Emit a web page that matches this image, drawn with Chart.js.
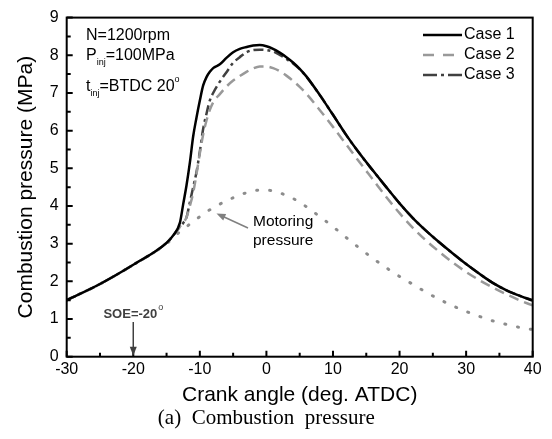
<!DOCTYPE html>
<html>
<head>
<meta charset="utf-8">
<script src="https://cdn.jsdelivr.net/npm/chart.js@4"></script>
<style>
  html, body { margin: 0; padding: 0; background: #fff; }
  #wrap { width: 552px; height: 439px; }
</style>
</head>
<body>
<div id="wrap"><canvas id="pressureChart"></canvas></div>
<script>
const ctxEl = document.getElementById("pressureChart");

// DATA (crank angle in deg. ATDC, pressure in MPa)
const crankAngle = [-30, -25, -20, -15, -14, -13, -12.5, -12, -11.5, -11, -10.5, -10, -9.5, -9, -8.5, -8,
  -7, -6, -5, -4, -3, -2, -1, 0, 1, 2, 3, 4, 5, 6,
  8, 10, 12, 14, 16, 18, 20, 22, 24, 26, 28, 30, 32, 34, 36, 38, 40];
const case1 = [1.50, 1.93, 2.44, 3.02, 3.22, 3.55, 4.05, 4.55, 5.15, 5.85, 6.35, 6.80, 7.20, 7.42, 7.56, 7.66,
  7.76, 7.93, 8.08, 8.17, 8.22, 8.26, 8.27, 8.24, 8.17, 8.07, 7.95, 7.81, 7.64, 7.44,
  6.95, 6.42, 5.88, 5.39, 4.94, 4.50, 4.07, 3.68, 3.34, 3.03, 2.74, 2.46, 2.20, 1.96, 1.77, 1.62, 1.49];
const case2 = [1.50, 1.93, 2.44, 3.02, 3.22, 3.45, 3.55, 3.70, 4.00, 4.35, 4.85, 5.40, 5.90, 6.27, 6.55, 6.75,
  6.97, 7.17, 7.33, 7.45, 7.56, 7.65, 7.70, 7.70, 7.66, 7.58, 7.46, 7.32, 7.16, 6.98,
  6.55, 6.10, 5.63, 5.16, 4.70, 4.24, 3.81, 3.42, 3.08, 2.78, 2.50, 2.25, 2.03, 1.84, 1.66, 1.50, 1.36];
const case3 = [1.50, 1.93, 2.44, 3.02, 3.22, 3.45, 3.55, 3.70, 4.10, 4.50, 4.90, 5.45, 6.05, 6.45, 6.80, 7.00,
  7.30, 7.55, 7.80, 7.95, 8.08, 8.14, 8.15, 8.14, 8.10, 8.01, 7.90, 7.78, 7.63, 7.43,
  6.95, 6.42, 5.88, 5.39, 4.94, 4.50, 4.07, 3.68, 3.34, 3.03, 2.74, 2.46, 2.20, 1.96, 1.77, 1.62, 1.50];
const motoring = [1.50, 1.93, 2.44, 3.00, 3.15, 3.32, 3.39, 3.45, 3.52, 3.58, 3.65, 3.72, 3.79, 3.85, 3.90, 3.95,
  4.05, 4.13, 4.22, 4.30, 4.35, 4.40, 4.42, 4.42, 4.40, 4.35, 4.28, 4.20, 4.10, 3.98,
  3.72, 3.45, 3.16, 2.88, 2.61, 2.36, 2.13, 1.92, 1.71, 1.52, 1.35, 1.20, 1.07, 0.95, 0.86, 0.78, 0.72];
const seriesNames = ['Case 1', 'Case 2', 'Case 3', 'Motoring pressure'];
const xTickValues = [-30, -20, -10, 0, 10, 20, 30, 40];
const yTickValues = [0, 1, 2, 3, 4, 5, 6, 7, 8, 9];

const toPoints = (vals) => vals.map((v, i) => ({ x: crankAngle[i], y: v }));

Chart.defaults.font.family = "'Liberation Sans', Arial, sans-serif";
Chart.defaults.color = '#000';

// text with sub/superscripts: parts = [[text, size, dy], ...]
function richText(ctx, x, y, parts) {
  ctx.textAlign = 'left';
  ctx.textBaseline = 'middle';
  for (const [t, size, dy] of parts) {
    ctx.font = size + "px 'Liberation Sans', Arial, sans-serif";
    ctx.fillText(t, x, y + dy);
    x += ctx.measureText(t).width;
  }
}

function arrow(ctx, x1, y1, x2, y2, color) {
  const ang = Math.atan2(y2 - y1, x2 - x1);
  ctx.strokeStyle = color;
  ctx.fillStyle = color;
  ctx.lineWidth = 1.5;
  ctx.setLineDash([]);
  ctx.beginPath();
  ctx.moveTo(x1, y1);
  ctx.lineTo(x2 - 6 * Math.cos(ang), y2 - 6 * Math.sin(ang));
  ctx.stroke();
  ctx.beginPath();
  ctx.moveTo(x2, y2);
  ctx.lineTo(x2 - 9 * Math.cos(ang) + 3.5 * Math.sin(ang), y2 - 9 * Math.sin(ang) - 3.5 * Math.cos(ang));
  ctx.lineTo(x2 - 9 * Math.cos(ang) - 3.5 * Math.sin(ang), y2 - 9 * Math.sin(ang) + 3.5 * Math.cos(ang));
  ctx.closePath();
  ctx.fill();
}

const decorations = {
  id: 'decorations',
  afterDraw(chart) {
    const { ctx, chartArea: a, scales: { x, y } } = chart;
    ctx.save();

    // inward ticks + frame
    ctx.strokeStyle = '#000';
    ctx.lineWidth = 2;
    ctx.setLineDash([]);
    ctx.beginPath();
    for (let v = x.min; v <= x.max; v += 5) {
      const px = x.getPixelForValue(v);
      ctx.moveTo(px, a.bottom);
      ctx.lineTo(px, a.bottom - (v % 10 === 0 ? 6 : 4));
    }
    for (let v = y.min; v <= y.max; v += 0.5) {
      const py = y.getPixelForValue(v);
      ctx.moveTo(a.left, py);
      ctx.lineTo(a.left + (Number.isInteger(v) ? 6 : 4), py);
    }
    ctx.stroke();
    ctx.strokeRect(a.left, a.top, a.right - a.left, a.bottom - a.top);

    // legend (first three series)
    const sets = chart.data.datasets.slice(0, 3);
    sets.forEach((ds, i) => {
      const ly = 35 + i * 20;
      ctx.strokeStyle = ds.borderColor;
      ctx.lineWidth = ds.borderWidth;
      ctx.setLineDash(i === 1 ? [11, 9] : (i === 2 ? [14, 4, 3, 4] : []));
      ctx.beginPath();
      ctx.moveTo(423, ly);
      ctx.lineTo(462, ly);
      ctx.stroke();
      ctx.fillStyle = '#000';
      richText(ctx, 464, ly, [[ds.label, 16, 0]]);
    });

    // operating conditions
    ctx.fillStyle = '#000';
    richText(ctx, 86, 36, [['N=1200rpm', 16, 0]]);
    richText(ctx, 86, 56, [['P', 16, 0], ['inj', 9, 7], ['=100MPa', 16, 0]]);
    richText(ctx, 86, 87, [['t', 16, 0], ['inj', 9, 7], ['=BTDC 20', 16, 0], ['o', 9, -7]]);

    // motoring label
    ctx.fillStyle = '#000';
    richText(ctx, 253, 222, [['Motoring', 15.5, 0]]);
    richText(ctx, 253, 241, [['pressure', 15.5, 0]]);
    arrow(ctx, 248, 228, x.getPixelForValue(-7.5), y.getPixelForValue(3.8), '#808080');

    // start of energizing
    const sx = x.getPixelForValue(-20);
    ctx.fillStyle = '#404040';
    ctx.font = "bold 13px 'Liberation Sans', Arial, sans-serif";
    ctx.textAlign = 'right';
    ctx.textBaseline = 'middle';
    ctx.fillText('SOE=-20', sx + 24, 314);
    ctx.font = "9px 'Liberation Sans', Arial, sans-serif";
    ctx.textAlign = 'left';
    ctx.fillText('o', sx + 25, 308);
    arrow(ctx, sx, 322, sx, a.bottom - 1, '#404040');

    ctx.restore();
  }
};

let pressureChart = new Chart(ctxEl, {
  type: 'line',
  data: {
    datasets: [{
      label: seriesNames[0],
      data: toPoints(case1),
      borderColor: '#000000',
      borderWidth: 2.5
    }, {
      label: seriesNames[1],
      data: toPoints(case2),
      borderColor: '#999999',
      borderWidth: 2.5,
      borderDash: [10, 6]
    }, {
      label: seriesNames[2],
      data: toPoints(case3),
      borderColor: '#404040',
      borderWidth: 2.5,
      borderDash: [10, 4, 3, 4]
    }, {
      label: seriesNames[3],
      data: toPoints(motoring),
      borderColor: '#8c8c8c',
      borderWidth: 3,
      borderDash: [1, 12],
      borderCapStyle: 'round'
    }]
  },
  options: {
    responsive: true,
    maintainAspectRatio: false,
    animation: false,
    events: [],
    layout: { padding: { top: 12.3, right: 19.3, left: 0, bottom: 0 } },
    elements: {
      point: { radius: 0 },
      line: { cubicInterpolationMode: 'monotone', fill: false }
    },
    plugins: {
      legend: { display: false },
      tooltip: { enabled: false },
      title: {
        display: true,
        position: 'bottom',
        text: '(a)  Combustion  pressure',
        color: '#000',
        font: { family: "'Liberation Serif', 'Times New Roman', serif", size: 21, weight: 'normal' },
        padding: { top: 0, bottom: 8 }
      }
    },
    scales: {
      x: {
        type: 'linear',
        min: -30,
        max: 40,
        afterBuildTicks: (scale) => { scale.ticks = xTickValues.map(v => ({ value: v })); },
        afterFit: (scale) => { scale.height = 49.1; },
        ticks: { font: { size: 16 }, padding: 3, color: '#000' },
        grid: { display: false, drawTicks: false },
        border: { display: false },
        title: {
          display: true,
          text: 'Crank angle (deg. ATDC)',
          font: { size: 21, lineHeight: 1 },
          padding: { top: 0, bottom: 0 },
          color: '#000'
        }
      },
      y: {
        min: 0,
        max: 9,
        afterBuildTicks: (scale) => { scale.ticks = yTickValues.map(v => ({ value: v })); },
        afterFit: (scale) => { scale.width = 66.7; },
        ticks: { font: { size: 16 }, padding: 8, color: '#000' },
        grid: { display: false, drawTicks: false },
        border: { display: false },
        title: {
          display: true,
          text: 'Combustion pressure (MPa)',
          font: { size: 21, lineHeight: 1 },
          padding: { top: 16, bottom: 0 },
          color: '#000'
        }
      }
    }
  },
  plugins: [decorations]
});
</script>
</body>
</html>
